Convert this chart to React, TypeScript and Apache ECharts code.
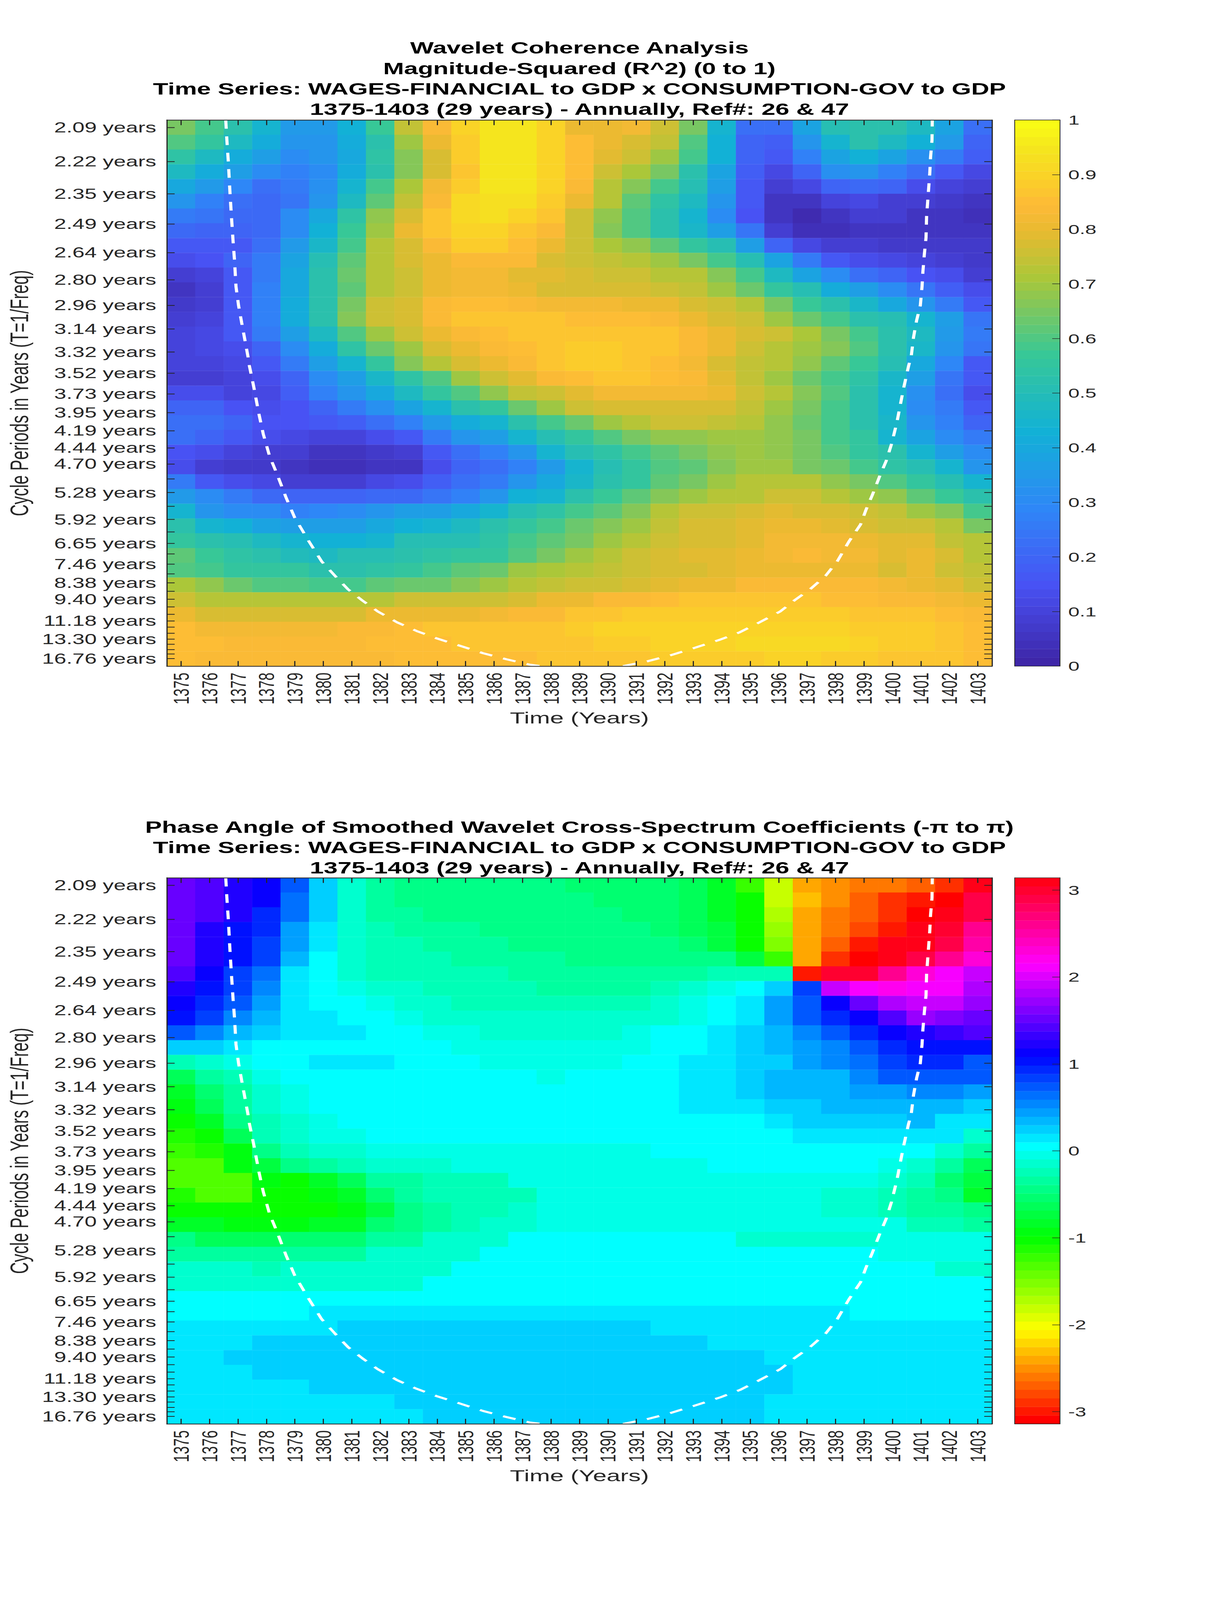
import React, { useEffect, useRef } from "react";
import * as echarts from "echarts";

const years = ["1375","1376","1377","1378","1379","1380","1381","1382","1383","1384","1385","1386","1387","1388","1389","1390","1391","1392","1393","1394","1395","1396","1397","1398","1399","1400","1401","1402","1403"];

// Period ticks: row position (in image rows, from the top) and text
const periodTickRows = [0.5,2.81,4.99,7.04,8.98,10.82,12.55,14.16,15.72,17.16,18.55,19.83,21.05,22.21,23.3,24.31,25.24,26.16,27.06,27.9,28.68,29.4,30.08,30.74,31.35,31.92,32.47,32.99,33.48,33.93,34.36,34.76,35.16,35.52,35.87,36.18,36.49];
const periodTickLabels = ["2.09 years","2.22 years","2.35 years","2.49 years","2.64 years","2.80 years","2.96 years","3.14 years","3.32 years","3.52 years","3.73 years","3.95 years","4.19 years","4.44 years","4.70 years","","5.28 years","","5.92 years","","6.65 years","","7.46 years","","8.38 years","","9.40 years","","","11.18 years","","","13.30 years","","","","16.76 years"];

// Cone of influence, in (column, row) units
const coiLeftCols = [2.07,2.11,2.16,2.22,2.27,2.33,2.38,2.43,2.52,2.63,2.74,2.85,2.9,3.06,3.23,3.39,3.61,3.86,4.19,4.49,4.95,5.44,5.91,6.37,6.87,7.41,8.1,8.78,9.47,10.29,11.11,11.93,12.75,13.16];
const coiLeftRows = [0,1.37,2.81,4.96,6.53,8.27,9.55,11.28,12.56,13.73,14.87,16.01,16.64,18.13,19.86,21.28,22.77,23.93,25.58,26.92,28.41,29.9,30.88,31.8,32.55,33.29,34.04,34.62,35.11,35.61,36.12,36.53,36.9,37];
const coiRightCols = [16.03,16.85,17.67,18.5,19.45,20.14,20.82,21.56,22.05,22.6,23.15,23.56,23.97,24.38,24.57,24.79,25.06,25.28,25.47,25.66,25.88,26.07,26.16,26.24,26.35,26.48,26.54,26.57,26.62,26.68,26.7,26.76,26.81,26.84,26.89,26.9];
const coiRightRows = [37,36.69,36.28,35.79,35.2,34.7,34.04,33.29,32.55,31.8,30.88,29.9,28.56,27.4,26.41,25.42,24.09,23.1,21.94,20.45,18.28,16.64,16.01,14.73,13.57,12.56,11.28,10.28,9.12,7.97,6.53,4.96,3.66,2.51,1.37,0];

const coherenceRows = [
[.65,.58,.52,.44,.35,.35,.43,.57,.74,.84,.90,.94,.95,.90,.80,.80,.82,.75,.65,.45,.22,.22,.38,.50,.53,.52,.47,.38,.22],
[.60,.55,.47,.42,.33,.33,.42,.53,.70,.80,.88,.94,.95,.90,.85,.80,.77,.74,.60,.43,.20,.18,.33,.45,.52,.48,.43,.35,.20],
[.54,.47,.42,.36,.31,.33,.40,.54,.66,.78,.88,.94,.95,.90,.85,.79,.75,.70,.58,.43,.20,.17,.28,.38,.43,.38,.32,.26,.18],
[.47,.42,.36,.31,.28,.31,.42,.53,.66,.78,.87,.94,.95,.90,.85,.75,.71,.65,.53,.39,.18,.12,.20,.32,.33,.28,.23,.17,.12],
[.40,.35,.29,.23,.25,.32,.45,.58,.71,.82,.88,.94,.95,.90,.83,.73,.67,.58,.50,.37,.16,.09,.12,.20,.21,.20,.14,.10,.08],
[.33,.28,.23,.21,.24,.34,.48,.62,.74,.84,.91,.93,.93,.88,.80,.72,.62,.54,.47,.34,.16,.05,.05,.10,.11,.09,.08,.07,.05],
[.26,.24,.21,.21,.30,.40,.54,.68,.78,.87,.92,.93,.90,.87,.76,.68,.60,.52,.45,.31,.15,.05,.03,.06,.09,.09,.06,.06,.04],
[.21,.20,.19,.21,.30,.43,.57,.70,.81,.87,.90,.90,.86,.84,.75,.67,.60,.53,.46,.37,.24,.09,.04,.04,.06,.06,.05,.05,.05],
[.17,.16,.17,.22,.35,.46,.58,.73,.78,.83,.88,.88,.85,.81,.75,.71,.68,.62,.55,.50,.37,.20,.11,.08,.08,.07,.07,.07,.07],
[.13,.15,.20,.26,.38,.50,.62,.72,.77,.81,.83,.83,.83,.77,.76,.74,.73,.70,.65,.58,.50,.38,.25,.16,.14,.11,.10,.09,.07],
[.08,.10,.17,.26,.40,.52,.63,.72,.76,.80,.82,.82,.79,.79,.77,.76,.75,.73,.72,.66,.58,.47,.38,.30,.22,.20,.15,.13,.09],
[.05,.09,.16,.27,.40,.52,.62,.72,.76,.80,.82,.82,.80,.78,.78,.77,.77,.76,.74,.70,.64,.56,.50,.42,.36,.30,.24,.18,.13],
[.07,.09,.16,.28,.41,.52,.65,.75,.78,.83,.85,.85,.84,.82,.82,.82,.81,.80,.78,.75,.72,.65,.57,.52,.46,.40,.34,.26,.17],
[.08,.10,.16,.28,.41,.52,.66,.75,.78,.83,.86,.86,.86,.86,.85,.85,.85,.83,.80,.78,.76,.70,.64,.58,.53,.50,.45,.36,.24],
[.10,.11,.16,.25,.36,.48,.60,.70,.76,.80,.83,.85,.87,.87,.87,.87,.87,.86,.84,.81,.78,.75,.71,.65,.58,.52,.47,.35,.25],
[.10,.11,.13,.20,.30,.42,.54,.63,.70,.77,.81,.83,.85,.87,.89,.89,.87,.86,.84,.80,.76,.73,.70,.66,.60,.52,.46,.34,.24],
[.10,.10,.12,.17,.26,.37,.45,.55,.66,.73,.78,.80,.83,.86,.88,.88,.86,.85,.82,.78,.74,.72,.68,.62,.57,.50,.40,.29,.17],
[.08,.08,.10,.13,.20,.30,.37,.46,.54,.60,.70,.75,.79,.83,.85,.87,.87,.85,.83,.79,.74,.70,.63,.58,.54,.46,.37,.24,.16],
[.13,.13,.10,.12,.18,.27,.33,.40,.47,.56,.60,.68,.74,.76,.79,.82,.82,.82,.82,.80,.75,.72,.66,.60,.53,.45,.32,.22,.13],
[.19,.19,.15,.13,.15,.20,.26,.32,.38,.45,.52,.56,.64,.70,.75,.77,.77,.78,.78,.77,.74,.70,.65,.58,.52,.45,.30,.25,.16],
[.23,.22,.19,.15,.15,.17,.18,.22,.27,.35,.42,.45,.53,.58,.64,.70,.72,.75,.75,.74,.73,.68,.63,.58,.53,.46,.33,.27,.20],
[.22,.20,.17,.13,.11,.10,.10,.14,.17,.26,.33,.37,.44,.50,.55,.60,.65,.68,.68,.70,.70,.68,.65,.58,.55,.45,.38,.31,.26],
[.15,.13,.10,.09,.08,.06,.06,.07,.09,.17,.22,.27,.33,.44,.50,.54,.58,.62,.65,.68,.70,.68,.65,.60,.55,.52,.44,.36,.31],
[.14,.09,.07,.07,.05,.04,.04,.05,.06,.13,.19,.23,.28,.35,.44,.50,.55,.60,.62,.67,.70,.70,.65,.64,.58,.54,.50,.44,.34],
[.25,.17,.13,.11,.09,.08,.09,.11,.13,.18,.22,.25,.33,.40,.46,.52,.55,.62,.65,.70,.72,.72,.72,.68,.65,.60,.55,.50,.45],
[.35,.31,.26,.21,.20,.20,.20,.21,.21,.24,.28,.33,.43,.45,.52,.57,.62,.66,.70,.72,.72,.75,.75,.72,.70,.68,.62,.57,.52],
[.44,.33,.31,.30,.28,.29,.30,.33,.36,.36,.40,.44,.50,.54,.58,.62,.66,.72,.75,.75,.77,.79,.78,.77,.75,.74,.70,.66,.58],
[.52,.45,.43,.38,.36,.36,.37,.40,.43,.45,.47,.52,.55,.58,.63,.67,.69,.74,.77,.78,.79,.80,.80,.79,.78,.76,.75,.72,.65],
[.56,.52,.50,.47,.45,.43,.43,.45,.50,.50,.51,.54,.58,.62,.65,.69,.72,.76,.78,.78,.79,.82,.82,.82,.81,.79,.79,.74,.72],
[.62,.57,.54,.52,.49,.48,.50,.50,.52,.54,.55,.55,.60,.65,.70,.72,.75,.77,.79,.79,.81,.82,.83,.82,.82,.79,.80,.77,.73],
[.60,.58,.55,.55,.55,.53,.53,.54,.56,.58,.61,.63,.70,.71,.72,.74,.76,.78,.78,.79,.81,.81,.81,.81,.81,.78,.80,.76,.74],
[.71,.68,.64,.60,.60,.59,.59,.62,.64,.63,.66,.70,.72,.74,.75,.76,.78,.79,.80,.80,.84,.84,.84,.84,.84,.82,.81,.79,.76],
[.75,.73,.72,.72,.72,.72,.72,.73,.75,.75,.75,.76,.78,.80,.81,.83,.83,.85,.86,.86,.86,.86,.86,.85,.85,.84,.84,.82,.80],
[.80,.78,.78,.77,.77,.78,.78,.80,.80,.80,.81,.82,.83,.84,.86,.87,.88,.88,.89,.89,.89,.89,.88,.88,.87,.87,.87,.85,.83],
[.85,.82,.82,.82,.82,.82,.83,.84,.85,.86,.86,.86,.86,.87,.88,.90,.90,.90,.90,.90,.90,.90,.90,.90,.89,.88,.88,.86,.85],
[.85,.85,.83,.83,.83,.83,.83,.85,.85,.85,.86,.86,.87,.87,.87,.89,.89,.90,.90,.90,.91,.91,.91,.91,.90,.88,.88,.86,.85],
[.85,.84,.83,.83,.83,.83,.83,.83,.85,.85,.85,.85,.85,.86,.87,.87,.87,.88,.88,.89,.89,.90,.90,.88,.88,.87,.87,.86,.85],
];

const phaseRows = [
[1.50,1.45,1.22,1.08,.72,.25,-.14,-.30,-.44,-.47,-.47,-.47,-.47,-.47,-.55,-.55,-.55,-.55,-.66,-.80,-1.2,-1.83,-2.36,-2.55,-2.62,-2.62,-2.68,-2.85,3.05],
[1.50,1.45,1.22,1.08,.62,.25,-.14,-.30,-.40,-.44,-.44,-.44,-.44,-.47,-.47,-.52,-.52,-.52,-.62,-.85,-1.05,-1.83,-2.30,-2.55,-2.72,-2.85,-3.0,-3.05,2.9],
[1.48,1.42,1.20,.95,.62,.22,-.14,-.35,-.35,-.42,-.42,-.42,-.42,-.44,-.47,-.47,-.50,-.55,-.62,-.85,-1.05,-1.75,-2.42,-2.6,-2.72,-2.93,-3.05,3.12,2.85],
[1.48,1.25,1.05,.90,.45,.10,-.10,-.22,-.30,-.35,-.35,-.40,-.42,-.42,-.44,-.44,-.47,-.50,-.60,-.72,-1.05,-1.65,-2.42,-2.6,-2.8,-2.95,3.14,3.0,2.6],
[1.48,1.25,1.05,.88,.40,.10,-.12,-.22,-.28,-.35,-.35,-.35,-.40,-.45,-.45,-.45,-.47,-.47,-.55,-.72,-1.0,-1.55,-2.4,-2.72,-3.0,3.14,3.1,2.85,2.55],
[1.48,1.25,1.05,.85,.30,.0,-.15,-.22,-.25,-.25,-.30,-.30,-.35,-.35,-.42,-.42,-.42,-.42,-.42,-.45,-.72,-1.25,-2.4,-2.85,-3.08,3.1,2.85,2.65,2.3],
[1.38,1.10,.85,.65,.18,.0,-.15,-.2,-.25,-.25,-.28,-.28,-.30,-.35,-.38,-.38,-.38,-.38,-.30,-.28,-.28,-.28,-3.0,3.0,2.95,2.65,2.35,2.15,1.9],
[1.25,1.05,.82,.50,.15,.0,-.05,-.15,-.18,-.22,-.22,-.26,-.26,-.30,-.30,-.30,-.30,-.25,-.15,-.06,.0,.26,.84,1.95,2.15,2.25,2.15,2.15,1.8],
[1.12,.92,.72,.42,.15,.0,.0,-.05,-.15,-.15,-.22,-.22,-.22,-.22,-.22,-.22,-.22,-.18,-.08,.0,.15,.45,.75,1.12,1.55,1.85,1.95,1.95,1.75],
[1.0,.85,.50,.30,.15,.10,.0,.0,-.08,-.10,-.15,-.15,-.15,-.18,-.15,-.10,-.10,-.10,-.05,.05,.18,.42,.70,.97,1.15,1.40,1.70,1.65,1.55],
[.78,.55,.35,.20,.12,.12,.12,.0,.0,-.06,-.06,-.10,-.10,-.10,-.10,-.10,-.05,.0,.0,.10,.20,.35,.55,.72,.92,1.08,1.25,1.30,1.38],
[.28,.22,.10,.08,.08,.08,.08,.0,.0,.0,-.05,-.05,-.05,-.05,-.05,-.05,-.05,.03,.03,.10,.20,.30,.45,.58,.75,.90,1.05,1.05,1.05],
[-.22,-.18,-.08,.0,.0,.10,.10,.10,.0,.0,.0,-.03,-.03,-.03,-.03,-.03,.0,.0,.10,.10,.20,.28,.48,.55,.65,.80,.92,.92,.75],
[-.60,-.35,-.20,-.08,.0,.0,.08,.08,.0,.0,.0,.0,.0,-.05,.0,.0,.0,.0,.10,.10,.22,.30,.38,.38,.50,.70,.70,.70,.70],
[-.80,-.55,-.30,-.15,-.05,.0,.0,.08,.0,.0,.0,.0,.0,.0,.0,.0,.0,.0,.10,.10,.20,.30,.30,.38,.45,.45,.50,.50,.40],
[-.95,-.65,-.35,-.15,-.05,.0,.0,.0,.0,.0,.0,.0,.0,.0,.0,.0,.0,.0,.10,.15,.15,.22,.22,.38,.38,.38,.38,.38,.28],
[-1.05,-.85,-.40,-.20,-.10,-.05,.0,.0,.0,.0,.0,.0,.0,.0,.0,.0,.0,.0,.0,.08,.08,.15,.22,.22,.28,.28,.30,.15,.10],
[-1.10,-1.05,-.60,-.28,-.12,-.08,-.05,.0,.0,.0,.0,.0,.0,.0,.0,.0,.0,.0,.0,.0,.08,.08,.15,.18,.18,.18,.18,.10,-.15],
[-1.25,-1.1,-.9,-.40,-.25,-.15,-.10,-.06,-.06,-.06,-.06,-.06,-.06,-.06,-.06,-.06,-.06,.0,.0,.0,.0,.0,.08,.08,.08,.08,.0,-.12,-.35],
[-1.28,-1.28,-.95,-.70,-.40,-.30,-.25,-.18,-.12,-.12,-.06,-.06,-.06,-.06,-.06,-.06,-.06,-.06,-.06,.0,.0,.0,.0,.0,.0,-.06,-.18,-.30,-.60],
[-1.28,-1.28,-1.28,-.95,-1.0,-.80,-.65,-.35,-.3,-.2,-.2,-.2,-.08,-.08,-.06,-.06,-.06,-.06,-.06,-.06,-.06,-.06,-.06,-.06,-.06,-.10,-.25,-.50,-.75],
[-1.12,-1.28,-1.28,-1.0,-1.0,-.95,-.80,-.55,-.38,-.28,-.28,-.25,-.20,-.05,-.05,-.05,-.05,-.05,-.05,-.05,-.05,-.05,-.05,-.18,-.18,-.22,-.35,-.48,-.82],
[-1.0,-1.0,-1.0,-1.0,-1.0,-1.0,-.95,-.72,-.48,-.38,-.22,-.22,-.12,-.05,-.05,-.05,-.05,-.05,-.05,-.05,-.05,-.05,-.05,-.18,-.18,-.24,-.30,-.35,-.40],
[-.80,-.85,-.95,-.95,-.90,-.82,-.82,-.55,-.40,-.30,-.25,-.10,-.10,-.08,-.08,-.08,-.08,-.08,-.08,-.08,-.08,-.08,-.08,-.08,-.08,-.08,-.22,-.22,-.30],
[-.45,-.60,-.60,-.60,-.55,-.55,-.50,-.35,-.35,-.18,-.18,-.18,.0,.0,.0,.0,.0,.0,.0,.0,-.10,-.10,-.10,-.10,-.10,-.05,-.05,-.05,-.05],
[-.30,-.30,-.30,-.30,-.30,-.30,-.30,-.12,-.12,-.12,-.12,.0,.0,.0,.0,.0,.0,.0,.0,.0,.0,.0,.0,.0,.0,-.05,-.05,-.05,-.05],
[-.15,-.15,-.15,-.25,-.10,-.10,-.10,-.10,-.10,-.10,.0,.0,.0,.0,.0,.0,.0,.0,.0,.0,.0,.0,.0,.0,.0,.0,.0,-.12,-.12],
[-.10,-.10,-.10,-.10,-.10,-.10,-.10,-.10,-.10,.0,.0,.0,.0,.0,.0,.0,.0,.0,.0,.0,.0,.0,.0,.0,.0,.0,.0,.0,.0],
[.0,.0,.0,.0,.0,.0,.0,.0,.0,.0,.0,.0,.0,.0,.0,.0,.0,.0,.0,.0,.0,.0,.0,.0,.0,.0,.0,.0,.0],
[.0,.0,.0,.0,.0,.13,.13,.13,.13,.13,.13,.13,.13,.13,.13,.13,.13,.13,.13,.13,.13,.13,.13,.13,.0,.0,.0,.0,.0],
[.14,.14,.14,.14,.14,.14,.21,.21,.21,.21,.21,.21,.21,.21,.21,.21,.21,.14,.14,.14,.14,.14,.14,.14,.14,.14,.14,.14,.14],
[.14,.14,.14,.21,.21,.21,.21,.21,.21,.21,.21,.21,.21,.21,.21,.21,.21,.21,.21,.14,.14,.14,.14,.14,.14,.14,.14,.14,.14],
[.14,.14,.21,.21,.21,.21,.21,.21,.21,.21,.21,.21,.21,.21,.21,.21,.21,.21,.21,.21,.21,.14,.14,.14,.14,.14,.14,.14,.14],
[.14,.14,.14,.21,.21,.21,.21,.21,.21,.21,.21,.21,.21,.21,.21,.21,.21,.21,.21,.21,.21,.21,.14,.14,.14,.14,.14,.14,.14],
[.14,.14,.14,.14,.14,.21,.21,.21,.21,.21,.21,.21,.21,.21,.21,.21,.21,.21,.21,.21,.21,.21,.14,.14,.14,.14,.14,.14,.14],
[.14,.14,.14,.14,.14,.14,.14,.14,.21,.21,.21,.21,.21,.21,.21,.21,.21,.21,.21,.21,.21,.14,.14,.14,.14,.14,.14,.14,.14],
[.14,.14,.14,.14,.14,.14,.14,.14,.14,.21,.21,.21,.21,.21,.21,.21,.21,.21,.21,.21,.21,.14,.14,.14,.14,.14,.14,.14,.14],
];

const coherenceTitle = "Wavelet Coherence Analysis\nMagnitude-Squared (R^2) (0 to 1)\nTime Series: WAGES-FINANCIAL to GDP x CONSUMPTION-GOV to GDP\n1375-1403 (29 years) - Annually, Ref#: 26 & 47";
const phaseTitle = "Phase Angle of Smoothed Wavelet Cross-Spectrum Coefficients (-π to π)\nTime Series: WAGES-FINANCIAL to GDP x CONSUMPTION-GOV to GDP\n1375-1403 (29 years) - Annually, Ref#: 26 & 47";
const coherenceBarTicks = [0,0.1,0.2,0.3,0.4,0.5,0.6,0.7,0.8,0.9,1];
const phaseBarTicks = [-3,-2,-1,0,1,2,3];

const LEVELS = 64;
const INK = "#262626";
const FONT = "'Liberation Sans', Arial, sans-serif";
const CHART_W = 3125, CHART_H = 6252;

const parulaStops = [0,.143,.286,.429,.571,.714,.8,.85,.9,.95,1];
const parulaAnchors = [[62,38,168],[72,82,244],[46,135,247],[18,177,214],[55,200,151],[171,199,57],[232,186,48],[254,186,55],[250,209,40],[245,228,30],[249,251,21]];
function parula(level: number) {
  const t = level / (LEVELS - 1);
  let i = 0;
  while (i < parulaStops.length - 2 && t > parulaStops[i + 1]) i++;
  const f = (t - parulaStops[i]) / (parulaStops[i + 1] - parulaStops[i]);
  const c = parulaAnchors[i].map((a, k) => Math.round(a + (parulaAnchors[i + 1][k] - a) * f));
  return `rgb(${c[0]},${c[1]},${c[2]})`;
}
function hsvLevel(level: number) {
  const h = (level / LEVELS) * 6;
  const i = Math.floor(h) % 6;
  const f = h - Math.floor(h);
  const v = [[1,f,0],[1-f,1,0],[0,1,f],[0,1-f,1],[f,0,1],[1,0,1-f]][i];
  return `rgb(${Math.round(v[0]*255)},${Math.round(v[1]*255)},${Math.round(v[2]*255)})`;
}
// One visualMap piece per colour level, so the map is stepped like the colour bar.
const stepPieces = (min: number, max: number, map: (l: number) => string) =>
  Array.from({ length: LEVELS }, (_, l) => ({
    gte: l === 0 ? min - 1 : min + (l / LEVELS) * (max - min),
    lt: l === LEVELS - 1 ? max + 1 : min + ((l + 1) / LEVELS) * (max - min),
    color: map(l),
  }));

const PLOT_LEFT = 427, PLOT_W = 2112, PLOT_H = 2134;
const BAR_LEFT = 2597, BAR_W = 116;
const line = { show: true, onZero: false, lineStyle: { color: INK, width: 3 } };
const inTick = (len: number, extra: any = {}) => ({ show: true, inside: true, length: len, lineStyle: { color: INK, width: 3 }, ...extra });
const rowNames = coherenceRows.map((_, i) => String(i));

function buildOption() {
  const grid: any[] = [], xAxis: any[] = [], yAxis: any[] = [], series: any[] = [], visualMap: any[] = [];
  const addPanel = (top: number, rows: number[][], min: number, max: number, map: (l: number) => string, barTicks: number[]) => {
    const g = grid.length;
    grid.push({ left: PLOT_LEFT, top, width: PLOT_W, height: PLOT_H });
    const xCat = xAxis.length;
    xAxis.push({
      type: "category", gridIndex: g, data: years, position: "bottom", z: 10, axisLine: line,
      axisTick: inTick(20, { alignWithLabel: true }),
      axisLabel: { interval: 0, rotate: 90, margin: 25, fontSize: 56, color: INK, fontFamily: FONT },
      name: "Time (Years)", nameLocation: "middle", nameGap: 202, nameMoveOverlap: false,
      nameTextStyle: { fontSize: 63, color: INK, fontFamily: FONT, verticalAlign: "middle" },
    });
    xAxis.push({ type: "category", gridIndex: g, data: years, position: "top", z: 10, axisLine: line, axisTick: inTick(20, { alignWithLabel: true }), axisLabel: { show: false } });
    const xVal = xAxis.length;
    xAxis.push({ type: "value", gridIndex: g, min: 0, max: years.length, show: false, position: "bottom" });
    const yCat = yAxis.length;
    yAxis.push({ type: "category", gridIndex: g, data: rowNames, inverse: true, show: false });
    const yVal = yAxis.length;
    const labelOf = (v: number) => periodTickLabels[periodTickRows.indexOf(v)] ?? "";
    yAxis.push({
      type: "value", gridIndex: g, min: 0, max: rows.length, inverse: true, position: "left", z: 10, splitLine: { show: false }, axisLine: line,
      axisTick: inTick(20, { customValues: periodTickRows }),
      axisLabel: { customValues: periodTickRows, formatter: labelOf, margin: 27, fontSize: 56, color: INK, fontFamily: FONT },
      name: "Cycle Periods in Years (T=1/Freq)", nameLocation: "middle", nameGap: 377, nameMoveOverlap: false,
      nameTextStyle: { fontSize: 64, color: INK, fontFamily: FONT, verticalAlign: "middle" },
    });
    yAxis.push({
      type: "value", gridIndex: g, min: 0, max: rows.length, inverse: true, position: "right", z: 10, splitLine: { show: false }, axisLine: line,
      axisTick: inTick(20, { customValues: periodTickRows }), axisLabel: { show: false },
    });
    const heatIdx = series.length;
    series.push({
      type: "heatmap", xAxisIndex: xCat, yAxisIndex: yCat, silent: true, z: 2, progressive: 0,
      data: rows.flatMap((r, y) => r.map((v, x) => [x, y, v])),
    });
    const coi = (cols: number[], rws: number[]) => ({
      type: "line", xAxisIndex: xVal, yAxisIndex: yVal, z: 5, silent: true, showSymbol: false, symbol: "none", smooth: false,
      lineStyle: { color: "#ffffff", width: 8, type: [34, 30] },
      data: cols.map((c, i) => [c, rws[i]]),
    });
    series.push(coi(coiLeftCols, coiLeftRows), coi(coiRightCols, coiRightRows));

    // colour bar
    const b = grid.length;
    grid.push({ left: BAR_LEFT, top, width: BAR_W, height: PLOT_H });
    const thin = { show: true, onZero: false, lineStyle: { color: INK, width: 2 } };
    const bx = xAxis.length;
    xAxis.push({ type: "category", gridIndex: b, data: [""], position: "bottom", z: 10, axisLine: thin, axisTick: { show: false }, axisLabel: { show: false } });
    xAxis.push({ type: "category", gridIndex: b, data: [""], position: "top", z: 10, axisLine: thin, axisTick: { show: false }, axisLabel: { show: false } });
    const levels = Array.from({ length: LEVELS }, (_, i) => i);
    const by = yAxis.length;
    yAxis.push({ type: "category", gridIndex: b, data: levels.map(String), show: false });
    yAxis.push({
      type: "value", gridIndex: b, min, max, position: "right", z: 10, splitLine: { show: false }, axisLine: thin,
      axisTick: inTick(20, { customValues: barTicks, lineStyle: { color: INK, width: 2 } }),
      axisLabel: { customValues: barTicks, margin: 21, fontSize: 52, color: INK, fontFamily: FONT, formatter: (v: number) => String(v) },
    });
    yAxis.push({ type: "value", gridIndex: b, min, max, position: "left", z: 10, splitLine: { show: false }, axisLine: thin, axisTick: { show: false }, axisLabel: { show: false } });
    const barIdx = series.length;
    series.push({
      type: "heatmap", xAxisIndex: bx, yAxisIndex: by, silent: true, z: 2, progressive: 0,
      data: levels.map((l) => [0, l, min + ((l + 0.5) / LEVELS) * (max - min)]),
    });
    visualMap.push({ type: "piecewise", show: false, dimension: 2, seriesIndex: [heatIdx, barIdx], pieces: stepPieces(min, max, map) });
  };
  addPanel(469, coherenceRows, 0, 1, parula, coherenceBarTicks);
  addPanel(3430, phaseRows, -Math.PI, Math.PI, hsvLevel, phaseBarTicks);

  const titleStyle = { fontSize: 64, fontWeight: "bold", color: "#000", fontFamily: FONT, lineHeight: 80 };
  return {
    animation: false,
    backgroundColor: "#ffffff",
    title: [
      { text: coherenceTitle, left: 1483, top: 147, textAlign: "center", padding: 0, textStyle: titleStyle },
      { text: phaseTitle, left: 1483, top: 3191, textAlign: "center", padding: 0, textStyle: titleStyle },
    ],
    grid, xAxis, yAxis, series, visualMap,
  };
}

export default function App() {
  const ref = useRef<HTMLDivElement>(null);
  // The chart is laid out at its full 3125x6252. The sandbox's window measured 3125x4096,
  // which would cut off the lower panel, so in a shorter window the chart is compressed
  // vertically to fit (this squashes the text). In a window of 6252 or more it is unscaled.
  const fit = Math.min(1, (window.innerHeight || CHART_H) / CHART_H);
  useEffect(() => {
    document.documentElement.style.margin = "0";
    document.body.style.margin = "0";
    const chart = echarts.init(ref.current!, undefined, { renderer: "svg" });
    chart.setOption(buildOption() as any);
    return () => chart.dispose();
  }, []);
  return (
    <div style={{ position: "relative", width: CHART_W, height: Math.floor(CHART_H * fit), overflow: "hidden" }}>
      <div ref={ref} style={{ position: "absolute", left: 0, top: 0, width: CHART_W, height: CHART_H, transformOrigin: "0 0", transform: `scale(1, ${fit})` }} />
    </div>
  );
}
